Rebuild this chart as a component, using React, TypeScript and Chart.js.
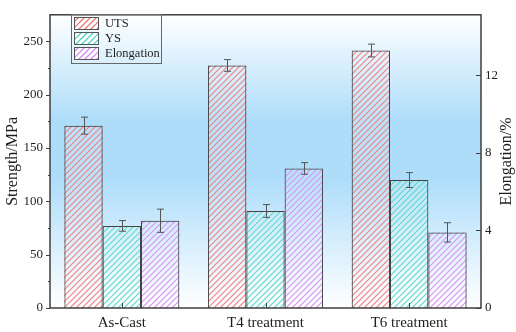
import React, { useEffect, useRef } from "react";
import { Chart, registerables } from "chart.js";

Chart.register(...registerables);

const categories = ["As-Cast", "T4 treatment", "T6 treatment"];
const seriesLabels = ["UTS", "YS", "Elongation"];
const utsValues = [171, 227.5, 241.5];
const utsErrors = [8, 5.5, 6];
const ysValues = [77, 91, 120];
const ysErrors = [5, 6, 7];
const elongValues = [4.5, 7.2, 3.9];
const elongErrors = [0.6, 0.3, 0.5];
const strengthTicks = [0, 50, 100, 150, 200, 250];
const strengthMinorTicks = [25, 75, 125, 175, 225];
const elongTicks = [0, 4, 8, 12];
const strengthMax = 275;
const elongMax = 15.125;

const hatchColors = ["rgb(240,108,108)", "rgb(64,212,190)", "rgb(212,128,244)"];

const FONT = "'Liberation Serif', 'Times New Roman', serif";
const TEXT = "#1e1e1e";
const AXIS = "#3e3e3e";

function drawHatch(
  ctx: CanvasRenderingContext2D,
  l: number,
  t: number,
  r: number,
  b: number,
  color: string
) {
  const step = 6;
  ctx.save();
  ctx.beginPath();
  ctx.rect(l, t, r - l, b - t);
  ctx.clip();
  ctx.strokeStyle = color;
  ctx.lineWidth = 1.1;
  ctx.beginPath();
  const start = Math.floor((l + t) / step) * step;
  for (let c = start; c <= r + b + step; c += step) {
    ctx.moveTo(c - b, b);
    ctx.lineTo(c - t, t);
  }
  ctx.stroke();
  ctx.restore();
}

export default function App() {
  const ref = useRef<HTMLCanvasElement | null>(null);

  useEffect(() => {
    document.body.style.margin = "0";
    const canvas = ref.current;
    if (!canvas) return;

    const errorsByDataset = [utsErrors, ysErrors, elongErrors];

    const decorPlugin = {
      id: "decor",
      beforeDatasetsDraw(chart: any) {
        const { ctx, chartArea: a } = chart;
        const grad = ctx.createLinearGradient(0, a.top, 0, a.bottom);
        grad.addColorStop(0, "#ffffff");
        grad.addColorStop(0.36, "rgb(174,221,250)");
        grad.addColorStop(0.56, "rgb(174,221,250)");
        grad.addColorStop(1, "#ffffff");
        ctx.save();
        ctx.fillStyle = grad;
        ctx.fillRect(a.left, a.top, a.right - a.left, a.bottom - a.top);
        ctx.restore();
        chart.data.datasets.forEach((_ds: any, i: number) => {
          const meta = chart.getDatasetMeta(i);
          meta.data.forEach((el: any) => {
            const p = el.getProps(["x", "y", "base", "width"], true);
            const l = p.x - p.width / 2;
            const r = p.x + p.width / 2;
            const t = Math.min(p.y, p.base);
            const b = Math.max(p.y, p.base);
            drawHatch(ctx, l, t, r, b, hatchColors[i]);
          });
        });
      },
      afterDatasetsDraw(chart: any) {
        const { ctx, chartArea: a } = chart;
        ctx.save();
        // error bars
        ctx.strokeStyle = "#555";
        ctx.lineWidth = 1;
        chart.data.datasets.forEach((ds: any, i: number) => {
          const meta = chart.getDatasetMeta(i);
          const scale = chart.scales[ds.yAxisID];
          const errs = errorsByDataset[i];
          meta.data.forEach((el: any, j: number) => {
            const v = ds.data[j];
            const e = errs[j];
            const x = Math.round(el.x) + 0.5;
            const yt = scale.getPixelForValue(v + e);
            const yb = scale.getPixelForValue(v - e);
            ctx.beginPath();
            ctx.moveTo(x, yt);
            ctx.lineTo(x, yb);
            ctx.moveTo(x - 3.5, yt);
            ctx.lineTo(x + 3.5, yt);
            ctx.moveTo(x - 3.5, yb);
            ctx.lineTo(x + 3.5, yb);
            ctx.stroke();
          });
        });

        // frame
        ctx.strokeStyle = AXIS;
        ctx.lineWidth = 1.5;
        ctx.strokeRect(a.left, a.top, a.right - a.left, a.bottom - a.top);

        // ticks
        ctx.lineWidth = 1;
        const ys = chart.scales.y;
        const y1 = chart.scales.y1;
        const xs = chart.scales.x;
        ctx.beginPath();
        strengthTicks.forEach((t) => {
          const py = Math.round(ys.getPixelForValue(t)) + 0.5;
          ctx.moveTo(a.left - 4, py);
          ctx.lineTo(a.left, py);
        });
        strengthMinorTicks.forEach((t) => {
          const py = Math.round(ys.getPixelForValue(t)) + 0.5;
          ctx.moveTo(a.left - 2, py);
          ctx.lineTo(a.left, py);
        });
        elongTicks.forEach((t) => {
          const py = Math.round(y1.getPixelForValue(t)) + 0.5;
          ctx.moveTo(a.right - 5, py);
          ctx.lineTo(a.right, py);
        });
        categories.forEach((_c, i) => {
          const px = Math.round(xs.getPixelForValue(i)) + 0.5;
          ctx.moveTo(px, a.bottom);
          ctx.lineTo(px, a.bottom - 5);
        });
        ctx.stroke();

        // axis titles
        ctx.fillStyle = TEXT;
        ctx.font = `16px ${FONT}`;
        ctx.textAlign = "center";
        ctx.textBaseline = "middle";
        const cy = (a.top + a.bottom) / 2;
        ctx.save();
        ctx.translate(13, cy);
        ctx.rotate(-Math.PI / 2);
        ctx.fillText("Strength/MPa", 0, 0);
        ctx.restore();
        ctx.save();
        ctx.translate(507, cy);
        ctx.rotate(-Math.PI / 2);
        ctx.fillText("Elongation/%", 0, 0);
        ctx.restore();

        // legend
        const lx = 71.5;
        const ly = 14.5;
        ctx.strokeStyle = "#666";
        ctx.lineWidth = 1;
        ctx.strokeRect(lx, ly, 90, 49);
        ctx.font = `12.5px ${FONT}`;
        ctx.textAlign = "left";
        chart.data.datasets.forEach((ds: any, i: number) => {
          const sy = 17.5 + i * 15;
          ctx.fillStyle = "#ffffff";
          ctx.fillRect(74.5, sy, 24, 12);
          drawHatch(ctx, 74.5, sy, 98.5, sy + 12, hatchColors[i]);
          ctx.strokeStyle = "#555";
          ctx.lineWidth = 1;
          ctx.strokeRect(74.5, sy, 24, 12);
          ctx.fillStyle = TEXT;
          ctx.fillText(ds.label, 105, sy + 6.5);
        });
        ctx.restore();
      },
    };

    const chart = new Chart(canvas, {
      type: "bar",
      data: {
        labels: categories,
        datasets: [
          {
            label: seriesLabels[0],
            data: utsValues,
            yAxisID: "y",
            backgroundColor: "rgba(255,255,255,0.15)",
            borderColor: "#444",
            borderWidth: 1,
          },
          {
            label: seriesLabels[1],
            data: ysValues,
            yAxisID: "y",
            backgroundColor: "rgba(255,255,255,0.15)",
            borderColor: "#444",
            borderWidth: 1,
          },
          {
            label: seriesLabels[2],
            data: elongValues,
            yAxisID: "y1",
            backgroundColor: "rgba(255,255,255,0.15)",
            borderColor: "#444",
            borderWidth: 1,
          },
        ],
      },
      options: {
        animation: false,
        responsive: false,
        maintainAspectRatio: false,
        datasets: { bar: { categoryPercentage: 0.8, barPercentage: 1.0 } },
        layout: { padding: { top: 6, left: 0, right: 0, bottom: 0 } },
        plugins: {
          legend: { display: false },
          tooltip: { enabled: false },
        },
        scales: {
          x: {
            type: "category",
            grid: { display: false, drawTicks: false },
            border: { display: false },
            ticks: {
              font: { family: FONT, size: 15 },
              color: TEXT,
              padding: 6,
              maxRotation: 0,
              autoSkip: false,
            },
            afterFit: (s: any) => {
              s.height = 24;
            },
          },
          y: {
            type: "linear",
            position: "left",
            min: 0,
            max: strengthMax,
            afterBuildTicks: (s: any) => {
              s.ticks = strengthTicks.map((v) => ({ value: v }));
            },
            grid: { display: false, drawTicks: false },
            border: { display: false },
            ticks: {
              font: { family: FONT, size: 13 },
              color: TEXT,
              padding: 7,
            },
            afterFit: (s: any) => {
              s.width = 50;
            },
          },
          y1: {
            type: "linear",
            position: "right",
            min: 0,
            max: elongMax,
            afterBuildTicks: (s: any) => {
              s.ticks = elongTicks.map((v) => ({ value: v }));
            },
            grid: { display: false, drawTicks: false },
            border: { display: false },
            ticks: {
              font: { family: FONT, size: 13 },
              color: TEXT,
              padding: 4,
            },
            afterFit: (s: any) => {
              s.width = 35;
            },
          },
        },
      },
      plugins: [decorPlugin],
    });

    return () => chart.destroy();
  }, []);

  return (
    <canvas
      ref={ref}
      width={516}
      height={332}
      style={{ display: "block", width: 516, height: 332 }}
    />
  );
}
